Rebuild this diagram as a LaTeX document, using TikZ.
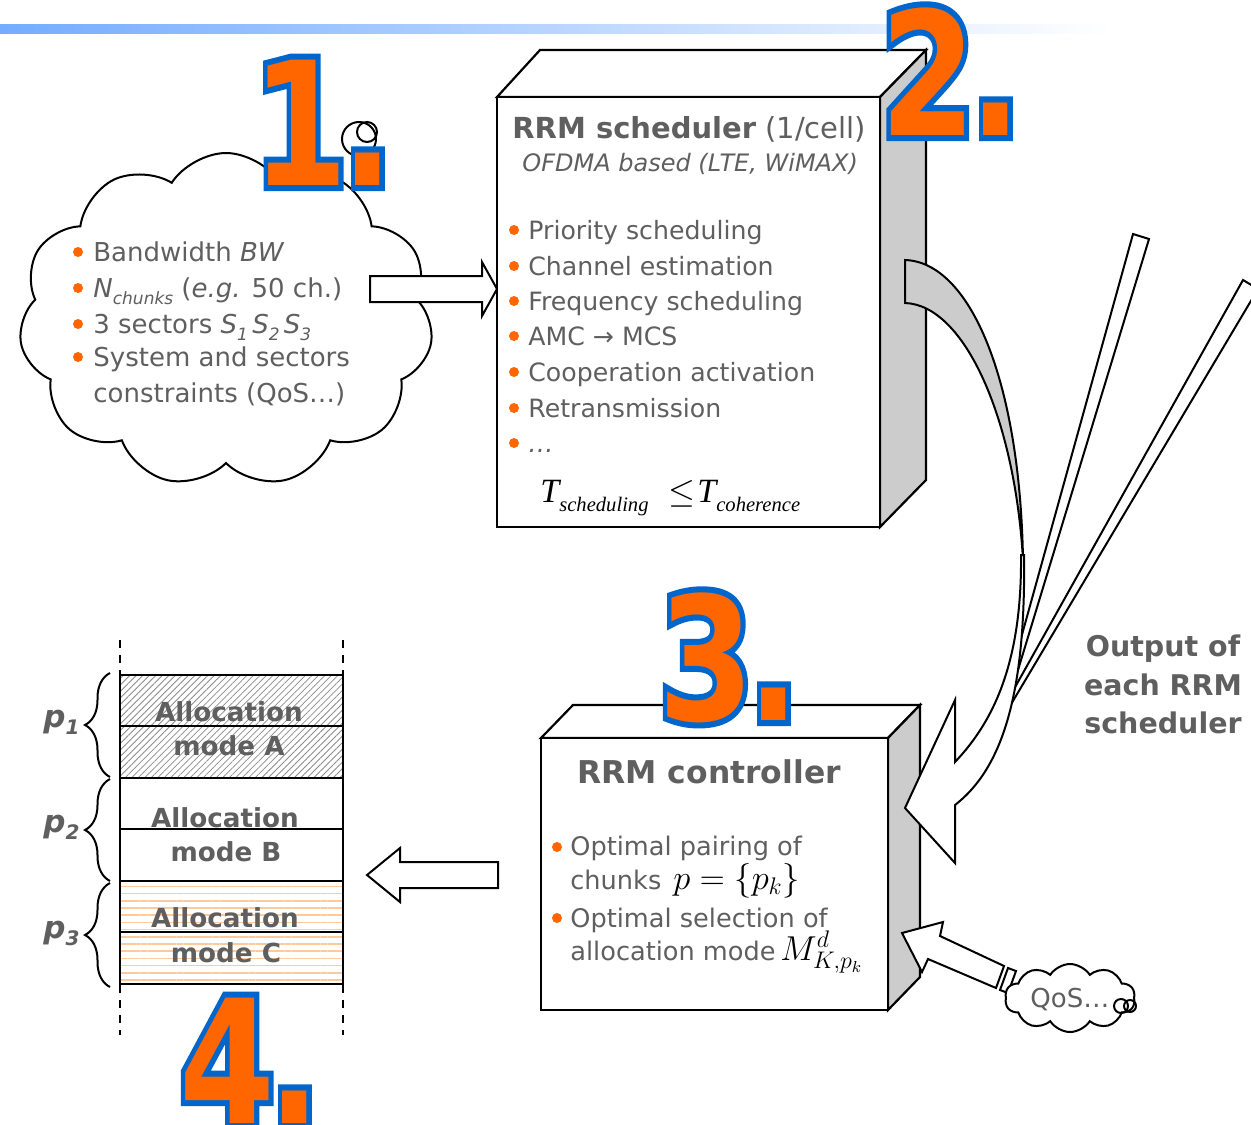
\documentclass[tikz,border=0pt]{standalone}
\usepackage{fontspec}
\setmainfont{DejaVu Sans}
\newfontfamily\tnr{Liberation Serif}
\newfontfamily\numout{DejaVu Sans Bold}[FakeBold=7]
\newfontfamily\numfill{DejaVu Sans Bold}
\usetikzlibrary{shapes.symbols,patterns.meta,decorations.pathreplacing}
\definecolor{numor}{HTML}{FF6600}
\definecolor{numbl}{HTML}{0066CC}
\definecolor{tgray}{HTML}{5F5F5F}
\definecolor{sideg}{HTML}{CCCCCC}
\definecolor{peach}{HTML}{FFC99A}
\definecolor{barblue}{HTML}{74ACFF}
\newcommand\fsz[1]{\fontsize{#1}{#1}\selectfont}
\newcommand\bignum[4]{%
  \node[numtxt,text=numbl,font=\numout\fsz{86pt}] at (#2,#3) {\scalebox{0.8}[1]{#4\kern-4pt.}};
  \node[numtxt,text=numor,font=\numfill\fsz{86pt}] (#1) at (#2,#3) {\scalebox{0.8}[1]{#4\kern-4pt.}};}
\newcommand\subs[1]{\raisebox{-3.5pt}{\fsz{8.5pt}\textit{#1}}}
\begin{document}
\begin{tikzpicture}[x=0.5pt,y=-0.5pt,
  ln/.style={line width=1.1pt, line join=miter},
  thin/.style={line width=1pt, line join=miter},
  numtxt/.style={anchor=base west, inner sep=0pt},
  gtxt/.style={anchor=base west, inner sep=0pt, text=tgray},
  ctxt/.style={gtxt, font=\fsz{13pt}},
  stxt/.style={gtxt, font=\fsz{12.6pt}},
  ktxt/.style={gtxt, font=\fsz{12.8pt}},
  atxt/.style={anchor=base, inner sep=0pt, text=tgray, font=\fsz{13.1pt}\bfseries},
  otxt/.style={anchor=base, inner sep=0pt, text=tgray, font=\fsz{14.25pt}\bfseries},
  ptxt/.style={anchor=base west, inner sep=0pt, text=tgray, font=\fsz{15.5pt}\bfseries\itshape},
  front/.style={draw, ln, fill=white, inner sep=0pt},
]
\useasboundingbox (0,0) rectangle (1251,1124);
\fill[white] (0,0) rectangle (1251,1124);
% top bar
\shade[left color=barblue, right color=white] (0,24) rectangle (1110,33);

% ---------- cloud 1
\node[cloud, draw, thin, fill=white, cloud puffs=11, cloud puff arc=115, aspect=1.24,
      minimum width=207pt, minimum height=167pt, inner sep=0pt] (cloudA) at (226,320) {};
\draw[thin] (359,139) circle (8.5pt);
\draw[thin] (367,132) circle (5pt);
\foreach \yy in {252,288,324,357}{\fill[numor] (78,\yy) circle (2.5pt);}
\node[ctxt] (c1) at (93,261) {Bandwidth \textit{BW}};
\node[ctxt] (c2) at (93,297) {\textit{N}\subs{chunks} (\textit{e.g.} 50 ch.)};
\node[ctxt] (c3) at (93,333) {3 sectors \textit{S}\subs{1}\,\textit{S}\subs{2}\,\textit{S}\subs{3}};
\node[ctxt] (c4) at (93,366) {System and sectors};
\node[ctxt] (c5) at (93,402) {constraints (QoS…)};

% arrow cloud -> scheduler
\filldraw[fill=white, thin] (370,276) -- (482,276) -- (482,262) -- (497,289) -- (482,316) -- (482,302) -- (370,302) -- cycle;

% ---------- scheduler box
\filldraw[fill=white, ln] (497,97) -- (540,50) -- (926,50) -- (880,97) -- cycle;
\filldraw[fill=sideg, ln] (880,97) -- (926,50) -- (926,480) -- (880,527) -- cycle;
\node[front, minimum width=191.5pt, minimum height=215pt] (sched) at (688.5,312) {};
\node[gtxt, font=\fsz{14.5pt}] (st) at (512,138.5) {\textbf{RRM scheduler} (1/cell)};
\node[gtxt, font=\fsz{12pt}\itshape] (ss) at (522,171) {OFDMA based (LTE, WiMAX)};
\foreach \yy in {230,266,301,336,372,408,443}{\fill[numor] (514,\yy) circle (2.5pt);}
\node[stxt] (s1) at (528,239) {Priority scheduling};
\node[stxt] (s2) at (528,275) {Channel estimation};
\node[stxt] (s3) at (528,310) {Frequency scheduling};
\node[stxt] (s4) at (528,345.5) {AMC → MCS};
\node[stxt] (s5) at (528,381) {Cooperation activation};
\node[stxt] (s6) at (528,417) {Retransmission};
\node[stxt] (s7) at (528,452) {\textit{…}};
\node[anchor=base west, inner sep=0pt, font=\tnr\fsz{17pt}\itshape] (tf1) at (540,502)
   {T\raisebox{-4.5pt}{\fsz{10.3pt}scheduling}};
\node[anchor=base west, inner sep=0pt, font=\fsz{17pt}] (tf2) at (668,502) {$\leq$};
\node[anchor=base west, inner sep=0pt, font=\tnr\fsz{17pt}\itshape] (tf3) at (697,502)
   {T\raisebox{-4.5pt}{\fsz{10.3pt}coherence}};

% numbers 1 and 2
\bignum{n1}{252}{185}{1}
\bignum{n2}{880}{135}{2}

% ---------- controller box
\filldraw[fill=white, ln] (541,738) -- (573,705) -- (920,705) -- (888,738) -- cycle;
\filldraw[fill=sideg, ln] (888,738) -- (920,705) -- (920,977) -- (888,1010) -- cycle;
\node[front, minimum width=173.5pt, minimum height=136pt] (ctrl) at (714.5,874) {};
\node[gtxt, font=\fsz{15.7pt}\bfseries] (ct) at (577,783) {RRM controller};
\fill[numor] (557,847) circle (2.5pt);
\fill[numor] (557,918) circle (2.5pt);
\node[ktxt] (k1) at (570,855) {Optimal pairing of};
\node[ktxt] (k2) at (570,889) {chunks};
\node[anchor=base west, inner sep=0pt, font=\fsz{17pt}] (kf1) at (673,889) {$p=\{p_k\}$};
\node[ktxt] (k3) at (570,927) {Optimal selection of};
\node[ktxt] (k4) at (570,960) {allocation mode};
\node[anchor=base west, inner sep=0pt, font=\fsz{17pt}] (kf2) at (780,960) {$M^{d}_{K,p_k}$};
\bignum{n3}{658}{720}{3}

% ---------- output arrows
\filldraw[fill=white, thin] (1133,234) -- (1149,239) -- (1004,716) -- (1000,714) -- cycle;
\filldraw[fill=white, thin] (1243,280) -- (1258,289) -- (1004,716) -- (1000,714) -- cycle;
\filldraw[fill=sideg, thin] (905,260) .. controls (970,262) and (1020,380) .. (1023,560)
   .. controls (1015,420) and (965,305) .. (905,303) -- cycle;
\filldraw[fill=white, thin] (1021,555) .. controls (1022,660) and (995,720) .. (955,762)
   -- (955,700) -- (905,808) -- (955,863) -- (955,805)
   .. controls (1000,770) and (1026,700) .. (1024,555) -- cycle;
\node[otxt] (o1) at (1163,656) {Output of};
\node[otxt] (o2) at (1163,695) {each RRM};
\node[otxt] (o3) at (1163,733) {scheduler};

% ---------- QoS
\filldraw[fill=white, thin] (902,933) -- (943,922) -- (940,936) -- (1004,966) -- (996,988) -- (928,959) -- (922,972) -- cycle;
\filldraw[fill=white, thin] (1008,968) -- (1016,971) -- (1008,993) -- (1000,990) -- cycle;
\node[cloud, draw, thin, fill=white, cloud puffs=10, cloud puff arc=115, aspect=1.9,
      minimum width=65pt, minimum height=34pt, inner sep=0pt] (qos) at (1070,998) {};
\draw[thin] (1121,1006) circle (3.5pt);
\draw[thin] (1130,1006) circle (3pt);
\node[anchor=base west, inner sep=0pt, text=tgray, font=\fsz{13pt}] (qt) at (1030,1007) {QoS…};

% ---------- left arrow
\filldraw[fill=white, thin] (367,875) -- (400,848) -- (400,862) -- (498,862) -- (498,888) -- (400,888) -- (400,902) -- cycle;

% ---------- allocation table
\fill[white] (120,675) rectangle (343,984);
\fill[pattern={Lines[angle=45,distance=2.3pt,line width=0.4pt]}, pattern color=black!45] (120,675) rectangle (343,778);
\fill[pattern={Lines[angle=0,distance=3.6pt,line width=0.8pt]}, pattern color=peach] (120,881) rectangle (343,984);
\draw[ln] (120,675) rectangle (343,984);
\foreach \yy in {726,778,829,881,932}{\draw[ln] (120,\yy) -- (343,\yy);}
\draw[line width=1pt, dash pattern=on 4pt off 3.5pt] (120,640) -- (120,675);
\draw[line width=1pt, dash pattern=on 4pt off 3.5pt] (343,640) -- (343,675);
\draw[line width=1pt, dash pattern=on 4pt off 3.5pt] (120,985) -- (120,1035);
\draw[line width=1pt, dash pattern=on 4pt off 3.5pt] (343,985) -- (343,1035);
\node[atxt] (a1) at (229,721) {Allocation};
\node[atxt] (a2) at (229,755) {mode A};
\node[atxt] (b1) at (225,827) {Allocation};
\node[atxt] (b2) at (226,861) {mode B};
\node[atxt] (d1) at (225,927) {Allocation};
\node[atxt] (d2) at (226,962) {mode C};
\draw[line width=1pt, decorate, decoration={brace, amplitude=12.5pt}] (110,777) -- (110,673);
\draw[line width=1pt, decorate, decoration={brace, amplitude=12.5pt}] (110,881) -- (110,779);
\draw[line width=1pt, decorate, decoration={brace, amplitude=12.5pt}] (110,987) -- (110,883);
\node[ptxt] (p1) at (43,727) {p\raisebox{-3.5pt}{\fsz{10pt}1}};
\node[ptxt] (p2) at (43,832) {p\raisebox{-3.5pt}{\fsz{10pt}2}};
\node[ptxt] (p3) at (43,938) {p\raisebox{-3.5pt}{\fsz{10pt}3}};
\bignum{n4}{179}{1123}{4}
\end{tikzpicture}
\end{document}
